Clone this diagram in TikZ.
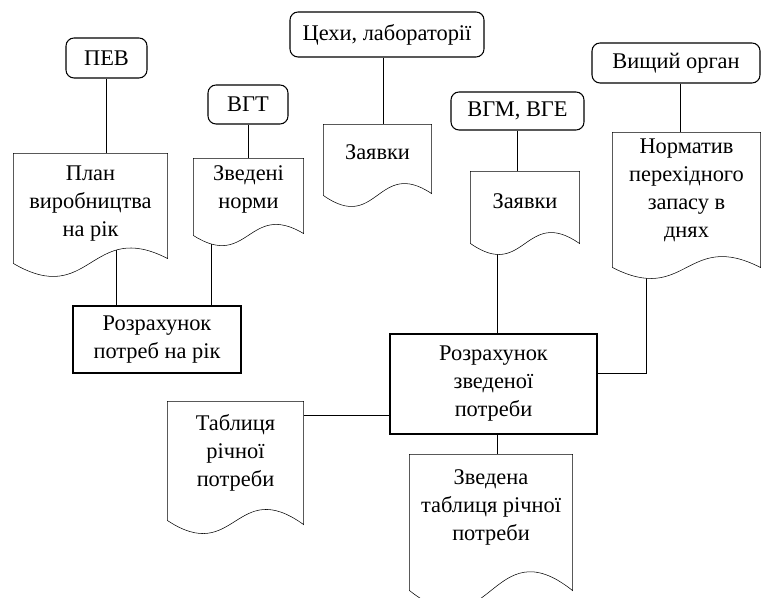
\documentclass[tikz,border=0pt]{standalone}
\usepackage{fontspec}
\setmainfont{Liberation Serif}
\usetikzlibrary{calc,backgrounds}

\tikzset{
  boxsize/.style 2 args={minimum width=#1*0.75pt, minimum height=#2*0.75pt},
  srcbox/.style={draw, rounded corners=6pt, inner sep=0pt},
  calcbox/.style={draw, align=center, inner sep=0pt},
  docbox/.style={align=center, inner sep=0pt, text depth=#1},
}
% document outline: node, wave depth, raise of right end
\newcommand\docwave[3]{%
  \draw[fill=white] (#1.north west) -- (#1.north east) -- ($(#1.south east)+(0,-#3)$)
    .. controls ($(#1.south)+(0,-#2)$) and ($(#1.south)+(0,#2)$) .. (#1.south west) -- cycle;}

\begin{document}
\begin{tikzpicture}[x=0.75pt, y=-0.75pt, line width=0.8pt, font=\fontsize{16.8pt}{21pt}\selectfont]
  \useasboundingbox (0,0) rectangle (761,598);

  % sources
  \node[srcbox, boxsize={81}{40}] (pev) at (106.5,58) {ПЕВ};
  \node[srcbox, boxsize={80}{39}] (vgt) at (248,104.5) {ВГТ};
  \node[srcbox, boxsize={194}{45}] (tsekhy) at (387,34.5) {Цехи, лабораторії};
  \node[srcbox, boxsize={133}{38}] (vgm) at (517.5,111) {ВГМ, ВГЕ};
  \node[srcbox, boxsize={168}{40}] (vysh) at (676,63) {Вищий орган};

  % documents
  \node[docbox=11.5pt, boxsize={153}{109}] (plan) at (90.5,208.5) {План\\виробництва\\на рік};
  \node[docbox=14.5pt, boxsize={109}{76}] (norms) at (248.5,197) {Зведені\\норми};
  \node[docbox=11.5pt, boxsize={107}{70}] (zay1) at (377.5,160) {Заявки};
  \node[docbox=10pt, boxsize={108}{71}] (zay2) at (525,207.5) {Заявки};
  \node[docbox=17.5pt, boxsize={147}{134}] (normat) at (686.5,200) {Норматив\\перехідного\\запасу в\\днях};
  \node[docbox=16pt, boxsize={135}{118}] (tab) at (235.5,461) {Таблиця\\річної\\потреби};
  \node[docbox=26.5pt, boxsize={162}{135}] (zvtab) at (491,522.5) {Зведена\\таблиця річної\\потреби};

  % calculations
  \node[calcbox, boxsize={168}{67}] (calc1) at (157,339.5) {Розрахунок\\потреб на рік};
  \node[calcbox, boxsize={207}{100}] (calc2) at (493.5,384) {Розрахунок\\зведеної\\потреби};

  \coordinate (planout) at ($(plan.center)+(25.5,0)$);
  \coordinate (normsout) at ($(norms.center)+(-37.5,0)$);
  \coordinate (tsekhyin) at ($(tsekhy.south)+(-4,0)$);
  \coordinate (vyshin) at ($(vysh.south)+(4,0)$);
  \coordinate (zay2out) at ($(zay2.center)+(-28,0)$);
  \coordinate (normatout) at ($(normat.center)+(-40.5,0)$);
  \coordinate (tabin) at ($(calc2.west)+(0,31)$);
  \coordinate (zvout) at ($(calc2.south)+(3.5,0)$);

  \begin{scope}[on background layer, line width=0.8pt]
    \draw (pev.south) -- (pev.south |- plan.north);
    \draw (planout) -- (planout |- calc1.north);
    \draw (vgt.south) -- (vgt.south |- norms.north);
    \draw (normsout) -- (normsout |- calc1.north);
    \draw (tsekhyin) -- (tsekhyin |- zay1.north);
    \draw (vgm.south) -- (vgm.south |- zay2.north);
    \draw (vyshin) -- (vyshin |- normat.north);
    \draw (zay2out) -- (zay2out |- calc2.north);
    \draw (normatout) |- ($(calc2.east)+(0,-11)$);
    \draw (tabin) -- (tabin -| tab.east);
    \draw (zvout) -- (zvout |- zvtab.north);

    \docwave{plan}{45}{5}
    \docwave{norms}{35}{2}
    \docwave{zay1}{38}{2}
    \docwave{zay2}{38}{0}
    \docwave{normat}{38}{0}
    \docwave{tab}{45}{-4}
    \docwave{zvtab}{65}{0}
  \end{scope}
\end{tikzpicture}
\end{document}
